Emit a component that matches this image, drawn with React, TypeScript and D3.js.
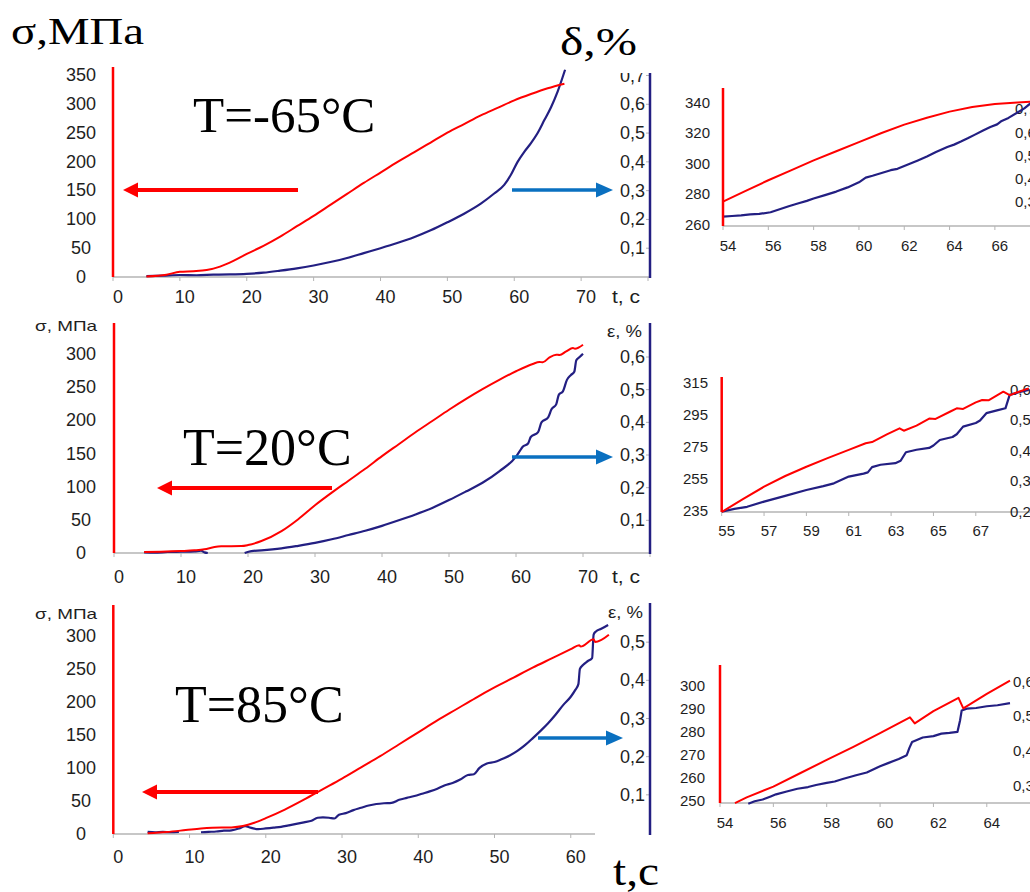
import React from 'react';
import * as d3 from 'd3';

type P = [number, number];

// ---------- Panel 1 : T = -65 °C ----------
const p1Stress: P[] = [[5,1],[8,4],[10,9],[12,10],[14,12],[16,18],[18,28],[20,40],[22.5,54],[25,70],[27.5,88],[30,106],[32.5,125],[35,144],[37.5,163],[40,181],[42.5,199],[45,216],[47.5,233],[50,250],[52.5,265],[55,280],[57.5,293],[60,306],[62.5,317],[65,327],[67.5,335]];
const p1Strain: P[] = [[5,0.003],[7.5,0.005],[10,0.007],[12.5,0.006],[15,0.008],[17.5,0.009],[20,0.011],[22.5,0.015],[25,0.022],[27.5,0.03],[30,0.04],[32.5,0.052],[35,0.066],[37.5,0.083],[40,0.1],[42.5,0.118],[45,0.138],[47.5,0.162],[50,0.19],[52.5,0.22],[55,0.255],[57,0.29],[58.5,0.32],[59.5,0.355],[60.5,0.4],[61.5,0.435],[62.5,0.465],[63.5,0.5],[64.5,0.545],[65.5,0.59],[66.5,0.645],[67.6,0.72]];
const p1TimeTicks = [0,10,20,30,40,50,60,70,80];
const p1TimeLabels = [0,10,20,30,40,50,60,70];
const p1StressTicks = [0,50,100,150,200,250,300,350];
const p1StrainTicks = [0.1,0.2,0.3,0.4,0.5,0.6,0.7];

const i1Stress: P[] = [[54,276],[55,283],[56,290],[57,296.5],[58,303],[59,309],[60,315],[61,321],[62,326.5],[63,331],[64,335],[65,338],[66,340],[67,341],[67.6,341.5]];
const i1Strain: P[] = [[54,0.24],[54.4,0.243],[54.8,0.246],[55.2,0.25],[55.6,0.252],[56.1,0.259],[56.5,0.272],[56.9,0.285],[57.3,0.297],[57.7,0.308],[58,0.318],[58.5,0.333],[59,0.348],[59.5,0.366],[60,0.388],[60.3,0.408],[60.6,0.416],[61,0.428],[61.4,0.44],[61.7,0.446],[62,0.458],[62.3,0.47],[62.6,0.482],[63,0.499],[63.4,0.518],[63.9,0.54],[64.2,0.55],[64.5,0.563],[64.8,0.577],[65.1,0.592],[65.5,0.612],[65.8,0.626],[66.1,0.637],[66.3,0.652],[66.6,0.665],[67,0.688],[67.3,0.706],[67.6,0.73]];
const i1TimeTicks = [54,56,58,60,62,64,66];
const i1StressTicks = [260,280,300,320,340];
const i1StrainTicks = [0.3,0.4,0.5,0.6,0.7];

// ---------- Panel 2 : T = 20 °C ----------
const p2Stress: P[] = [[4.5,1.5],[7,2],[10,3],[12,4],[13.5,5.5],[15,9],[16,10],[19,10.5],[20,12],[22,18],[25,33],[27.5,51],[30,72],[32.5,91],[35,109],[37.5,127],[40,146],[42.5,164],[45,182],[47.5,199],[50,216],[52.5,232],[55,247],[57.5,261],[60,274],[62.5,285],[63.5,288],[64,287.5],[65,295],[66,299],[66.5,298.5],[67.5,304],[68.5,309],[68.8,308],[70,314]];
const p2StrainA: P[] = [[4.5,0.002],[6,0.001],[8,0.003],[10,0.004],[12,0.005],[13,0.007],[13.5,0.002],[14,0]];
const p2StrainB: P[] = [[19.5,0],[20.5,0.006],[22,0.008],[25,0.014],[27.5,0.022],[30,0.031],[32.5,0.042],[35,0.055],[37.5,0.068],[40,0.083],[42.5,0.1],[45,0.118],[47.5,0.138],[50,0.162],[52.5,0.188],[55,0.215],[57.5,0.25],[60,0.295],[60.5,0.31],[61,0.325],[61.8,0.335],[62.2,0.355],[63.3,0.37],[63.8,0.4],[64.8,0.415],[65.3,0.44],[66,0.455],[66.4,0.485],[67,0.495],[67.6,0.53],[68.2,0.545],[68.7,0.555],[69,0.59],[69.5,0.6],[70,0.61]];
const p2TimeTicks = [0,10,20,30,40,50,60,70,80];
const p2TimeLabels = [0,10,20,30,40,50,60,70];
const p2StressTicks = [0,50,100,150,200,250,300];
const p2StrainTicks = [0.1,0.2,0.3,0.4,0.5,0.6];

const i2Stress: P[] = [[55,235],[56,243],[57,250.8],[58,257.5],[59,263.3],[60,268.7],[61,273.8],[61.8,278],[62.1,278.7],[62.8,283.5],[63.4,287.3],[63.6,285.8],[64.2,289],[64.8,293.4],[65.1,293.2],[65.8,297.8],[66.1,299.8],[66.4,299.4],[67,303.5],[67.3,305],[67.6,304.8],[68.3,310.2],[68.6,308],[69,310],[69.5,312.3]];
const i2Strain: P[] = [[55,0.201],[55.6,0.21],[56.2,0.217],[57,0.234],[58,0.253],[59,0.272],[59.8,0.285],[60.3,0.294],[61,0.316],[61.7,0.326],[61.9,0.33],[62.1,0.347],[62.5,0.355],[63.2,0.36],[63.45,0.368],[63.7,0.396],[64.2,0.404],[64.8,0.41],[65,0.418],[65.3,0.436],[65.9,0.446],[66.1,0.455],[66.4,0.48],[67,0.492],[67.2,0.5],[67.5,0.524],[68,0.533],[68.4,0.54],[68.6,0.584],[69,0.592],[69.5,0.6]];
const i2TimeTicks = [55,57,59,61,63,65,67];
const i2StressTicks = [235,255,275,295,315];
const i2StrainTicks = [0.2,0.3,0.4,0.5,0.6];

// ---------- Panel 3 : T = 85 °C ----------
const p3Stress: P[] = [[4.5,1],[7,3],[9.5,6],[11.5,8.5],[13,9.5],[15.5,10],[17,12],[18.5,17],[20,24],[22.5,37],[25,52],[27.5,68],[30,84],[32.5,101],[35,118],[37.5,136],[40,154],[42.5,172],[45,189],[47.5,206],[50,222],[52.5,237],[55,252],[57.5,266],[60,280],[61.1,286],[61.3,284],[63,295],[63.2,291],[65,302]];
const p3StrainA: P[] = [[4.5,0.003],[5.5,0.002],[6.5,0.003],[7.5,0.002],[8.6,0.003]];
const p3StrainB: P[] = [[11.5,0.002],[12.5,0.003],[13.5,0.004],[14.5,0.006],[15.5,0.007],[16.5,0.012],[17.3,0.018],[18,0.014],[19,0.01],[20,0.012],[21,0.014],[22,0.016],[23,0.02],[24,0.024],[25,0.028],[26,0.032],[26.8,0.04],[27.5,0.041],[28.3,0.04],[29,0.038],[29.6,0.048],[30.5,0.052],[31.5,0.06],[32.5,0.066],[33.5,0.072],[34.5,0.076],[35.5,0.078],[36.5,0.079],[37.5,0.087],[38.5,0.092],[39.5,0.097],[40.5,0.103],[41.5,0.109],[42.5,0.116],[43.5,0.125],[44.5,0.131],[45.5,0.14],[46.5,0.152],[47.3,0.154],[48,0.17],[49,0.182],[50,0.186],[51,0.194],[52,0.203],[53,0.215],[54,0.23],[55,0.248],[56,0.267],[57,0.287],[58,0.31],[59,0.335],[60,0.357],[60.6,0.375],[61,0.39],[61.2,0.43],[61.6,0.44],[62.2,0.45],[62.8,0.458],[63,0.52],[63.3,0.528],[64,0.535],[64.9,0.545]];
const p3TimeTicks = [0,10,20,30,40,50,60];
const p3TimeLabels = [0,10,20,30,40,50,60];
const p3StressTicks = [0,50,100,150,200,250,300];
const p3StrainTicks = [0.1,0.2,0.3,0.4,0.5];

const i3Stress: P[] = [[54.56,249.5],[55,252],[56,256.7],[57,262.5],[58,268.3],[59,274],[60,279.9],[61.12,286.8],[61.3,284.2],[62,289.5],[62.94,295.3],[63.12,290.7],[64,297],[64.87,302.8]];
const i3Strain: P[] = [[55.06,0.249],[55.3,0.256],[55.6,0.261],[55.9,0.27],[56.1,0.276],[56.5,0.284],[56.9,0.292],[57.3,0.297],[57.6,0.303],[58,0.309],[58.3,0.313],[58.6,0.32],[59.1,0.331],[59.5,0.339],[60,0.357],[60.3,0.366],[60.7,0.378],[61,0.389],[61.1,0.41],[61.2,0.427],[61.6,0.44],[62,0.444],[62.3,0.451],[62.6,0.453],[62.9,0.456],[63,0.49],[63.06,0.518],[63.25,0.523],[63.6,0.525],[64,0.53],[64.4,0.533],[64.87,0.539]];
const i3TimeTicks = [54,56,58,60,62,64];
const i3StressTicks = [250,260,270,280,290,300];
const i3StrainTicks = [0.3,0.4,0.5,0.6];

// ---------- styling ----------
const RED = '#ff0000';
const NAVY = '#231f82';
const ARROW_BLUE = '#0a70c0';
const GRAY = '#b4b4b4';
const TXT = '#1e1e1e';
const SANS = '"Liberation Sans", Arial, sans-serif';
const SERIF = '"Liberation Serif", "Times New Roman", serif';

type Lin = d3.ScaleLinear<number, number>;
const comma = (v: number) => v.toFixed(1).replace('.', ',');

function path(data: P[], x: Lin, y: Lin, smooth: boolean) {
  return d3.line<P>().curve(smooth ? d3.curveMonotoneX : d3.curveLinear).x(d => x(d[0])).y(d => y(d[1]))(data) || '';
}

function Arrow({ x1, x2, y, color, w, hl, hw }: { x1: number; x2: number; y: number; color: string; w: number; hl: number; hw: number }) {
  const dir = Math.sign(x2 - x1);
  const b = x2 - dir * hl;
  return (
    <g>
      <line x1={x1} y1={y} x2={b + dir} y2={y} stroke={color} strokeWidth={w} />
      <polygon points={`${x2},${y} ${b},${y - hw} ${b},${y + hw}`} fill={color} />
    </g>
  );
}

type MainCfg = {
  x: Lin; yL: Lin; yR: Lin;
  leftTop: number; rightTop: number; baseY: number; baseEnd: number; rightX: number;
  timeTicks: number[]; timeLabels: number[]; timeLabelY: number;
  stressTicks: number[]; strainTicks: number[];
  stress: P[][]; strain: P[][];
  clipTop?: number; id: string;
};

function MainPanel(c: MainCfg) {
  const lx = c.x(0);
  return (
    <g>
      {c.clipTop !== undefined && (
        <clipPath id={c.id}><rect x={0} y={c.clipTop} width={1030} height={400} /></clipPath>
      )}
      <line x1={lx} x2={c.baseEnd} y1={c.baseY} y2={c.baseY} stroke={GRAY} strokeWidth={1.5} />
      {c.timeTicks.map(t => (
        <line key={'xt' + t} x1={c.x(t)} x2={c.x(t)} y1={c.baseY} y2={c.baseY + 4} stroke={GRAY} strokeWidth={1} />
      ))}
      {c.timeLabels.map(t => (
        <text key={'xl' + t} x={c.x(t) + 5} y={c.timeLabelY} fontSize={18} fontFamily={SANS} fill={TXT} textAnchor="middle" dominantBaseline="central">{t}</text>
      ))}
      {c.stressTicks.map(v => (
        <text key={'yl' + v} x={81} y={c.yL(v)} fontSize={18} fontFamily={SANS} fill={TXT} textAnchor="middle" dominantBaseline="central">{v}</text>
      ))}
      {c.strainTicks.map(v => (
        <g key={'yr' + v} clipPath={c.clipTop !== undefined ? `url(#${c.id})` : undefined}>
          <text x={645} y={c.yR(v)} fontSize={18} fontFamily={SANS} fill={TXT} textAnchor="end" dominantBaseline="central">{comma(v)}</text>
        </g>
      ))}
      {c.strainTicks.map(v => (
        <line key={'rt' + v} x1={c.rightX - 4} x2={c.rightX} y1={c.yR(v)} y2={c.yR(v)} stroke={GRAY} strokeWidth={1} />
      ))}
      {c.strain.map((s, i) => (
        <path key={'s' + i} d={path(s, c.x, c.yR, true)} fill="none" stroke={NAVY} strokeWidth={2.2} strokeLinejoin="round" />
      ))}
      {c.stress.map((s, i) => (
        <path key={'r' + i} d={path(s, c.x, c.yL, true)} fill="none" stroke={RED} strokeWidth={2} strokeLinejoin="round" />
      ))}
      <line x1={lx} x2={lx} y1={c.leftTop} y2={c.baseY} stroke={RED} strokeWidth={2.5} />
      <line x1={c.rightX} x2={c.rightX} y1={c.rightTop} y2={c.baseY + 1} stroke={NAVY} strokeWidth={2.5} />
    </g>
  );
}

type InsetCfg = {
  x: Lin; yL: Lin; yR: Lin;
  top: number; baseY: number;
  timeTicks: number[]; timeLabelY: number;
  stressTicks: number[]; stressLabelX: number;
  strainTicks: number[]; strainLabelX: number;
  stress: P[]; strain: P[];
};

function Inset(c: InsetCfg) {
  const lx = c.x.range()[0];
  return (
    <g>
      <line x1={lx} x2={1030} y1={c.baseY} y2={c.baseY} stroke={GRAY} strokeWidth={1.5} />
      {c.timeTicks.map(t => (
        <line key={'xt' + t} x1={c.x(t)} x2={c.x(t)} y1={c.baseY} y2={c.baseY + 4} stroke={GRAY} strokeWidth={1} />
      ))}
      {c.timeTicks.map(t => (
        <text key={'xl' + t} x={c.x(t) + 5} y={c.timeLabelY} fontSize={15} fontFamily={SANS} fill={TXT} textAnchor="middle" dominantBaseline="central">{t}</text>
      ))}
      {c.stressTicks.map(v => (
        <text key={'yl' + v} x={c.stressLabelX} y={c.yL(v) - 2} fontSize={15} fontFamily={SANS} fill={TXT} textAnchor="end" dominantBaseline="central">{v}</text>
      ))}
      {c.strainTicks.map(v => (
        <text key={'yr' + v} x={c.strainLabelX} y={c.yR(v) - 1} fontSize={15} fontFamily={SANS} fill={TXT} textAnchor="start" dominantBaseline="central">{comma(v)}</text>
      ))}
      <path d={path(c.strain, c.x, c.yR, false)} fill="none" stroke={NAVY} strokeWidth={2.2} strokeLinejoin="round" />
      <path d={path(c.stress, c.x, c.yL, false)} fill="none" stroke={RED} strokeWidth={2} strokeLinejoin="round" />
      <line x1={lx} x2={lx} y1={c.top} y2={c.baseY} stroke={RED} strokeWidth={2.5} />
    </g>
  );
}

export default function App() {
  const lin = (d: [number, number], r: [number, number]) => d3.scaleLinear().domain(d).range(r);

  const p1 = { x: lin([0, 80], [113, 648]), yL: lin([0, 350], [277, 75]), yR: lin([0, 0.7], [277, 75.5]) };
  const p2 = { x: lin([0, 80], [114, 650]), yL: lin([0, 300], [553, 354]), yR: lin([0, 0.6], [553, 357]) };
  const p3 = { x: lin([0, 70], [113.3, 647]), yL: lin([0, 300], [834, 636]), yR: lin([0, 0.6], [833, 604]) };

  const i1 = { x: lin([54, 67.55], [723, 1030]), yL: lin([260, 340], [226, 104]), yR: lin([0.2, 0.6], [226, 133]) };
  const i2 = { x: lin([55, 69.56], [721.7, 1030]), yL: lin([235, 315], [512, 384]), yR: lin([0.2, 0.6], [512, 390]) };
  const i3 = { x: lin([54, 65.62], [720, 1030]), yL: lin([250, 300], [802, 687]), yR: lin([0.3, 0.6], [786, 682]) };

  return (
    <svg width={1030} height={892} style={{ position: 'absolute', left: 0, top: 0, background: '#fff' }} xmlns="http://www.w3.org/2000/svg">
      <rect x={0} y={0} width={1030} height={892} fill="#fff" />

      <MainPanel id="c1" clipTop={73} {...p1} leftTop={67} rightTop={73} baseY={277} baseEnd={650} rightX={650}
        timeTicks={p1TimeTicks} timeLabels={p1TimeLabels} timeLabelY={297}
        stressTicks={p1StressTicks} strainTicks={p1StrainTicks}
        stress={[p1Stress]} strain={[p1Strain]} />
      <MainPanel id="c2" {...p2} leftTop={323} rightTop={323} baseY={553} baseEnd={650} rightX={650}
        timeTicks={p2TimeTicks} timeLabels={p2TimeLabels} timeLabelY={577}
        stressTicks={p2StressTicks} strainTicks={p2StrainTicks}
        stress={[p2Stress]} strain={[p2StrainA, p2StrainB]} />
      <MainPanel id="c3" {...p3} leftTop={605} rightTop={603} baseY={834} baseEnd={595} rightX={650}
        timeTicks={p3TimeTicks} timeLabels={p3TimeLabels} timeLabelY={857}
        stressTicks={p3StressTicks} strainTicks={p3StrainTicks}
        stress={[p3Stress]} strain={[p3StrainA, p3StrainB]} />

      <Inset {...i1} top={88} baseY={226} timeTicks={i1TimeTicks} timeLabelY={245}
        stressTicks={i1StressTicks} stressLabelX={710} strainTicks={i1StrainTicks} strainLabelX={1015}
        stress={i1Stress} strain={i1Strain} />
      <Inset {...i2} top={377} baseY={512} timeTicks={i2TimeTicks} timeLabelY={530}
        stressTicks={i2StressTicks} stressLabelX={708} strainTicks={i2StrainTicks} strainLabelX={1010}
        stress={i2Stress} strain={i2Strain} />
      <Inset {...i3} top={665} baseY={803} timeTicks={i3TimeTicks} timeLabelY={822}
        stressTicks={i3StressTicks} stressLabelX={705} strainTicks={i3StrainTicks} strainLabelX={1013}
        stress={i3Stress} strain={i3Strain} />

      <text x={11} y={44} fontSize={38} fontFamily={SERIF} fill="#000" textLength={133} lengthAdjust="spacingAndGlyphs">σ,МПа</text>
      <text x={560} y={55} fontSize={40} fontFamily={SERIF} fill="#000" textLength={77} lengthAdjust="spacingAndGlyphs">δ,%</text>
      <text x={613} y={885} fontSize={42} fontFamily={SERIF} fill="#000" textLength={46} lengthAdjust="spacingAndGlyphs">t,c</text>
      <text x={612} y={297} fontSize={18} fontFamily={SANS} fill={TXT} dominantBaseline="central" textLength={28} lengthAdjust="spacingAndGlyphs">t, c</text>
      <text x={612} y={577} fontSize={18} fontFamily={SANS} fill={TXT} dominantBaseline="central" textLength={28} lengthAdjust="spacingAndGlyphs">t, c</text>
      <text x={35} y={325} fontSize={15} fontFamily={SANS} fill={TXT} dominantBaseline="central" textLength={62} lengthAdjust="spacingAndGlyphs">σ, МПа</text>
      <text x={35} y={613} fontSize={15} fontFamily={SANS} fill={TXT} dominantBaseline="central" textLength={62} lengthAdjust="spacingAndGlyphs">σ, МПа</text>
      <text x={607} y={331} fontSize={16} fontFamily={SANS} fill={TXT} dominantBaseline="central" textLength={35} lengthAdjust="spacingAndGlyphs">ε, %</text>
      <text x={608} y={612} fontSize={16} fontFamily={SANS} fill={TXT} dominantBaseline="central" textLength={35} lengthAdjust="spacingAndGlyphs">ε, %</text>

      <text x={193} y={132} fontSize={51} fontFamily={SERIF} fill="#000">T=-65°C</text>
      <text x={183} y={465} fontSize={52} fontFamily={SERIF} fill="#000">T=20°C</text>
      <text x={175} y={722} fontSize={52} fontFamily={SERIF} fill="#000">T=85°C</text>

      <Arrow x1={298} x2={123} y={190} color={RED} w={4} hl={15} hw={7.5} />
      <Arrow x1={512} x2={613} y={190} color={ARROW_BLUE} w={3.5} hl={17} hw={7.5} />
      <Arrow x1={332} x2={157} y={488} color={RED} w={4} hl={15} hw={7.5} />
      <Arrow x1={512} x2={613} y={457} color={ARROW_BLUE} w={3.5} hl={17} hw={7.5} />
      <Arrow x1={318} x2={142} y={792} color={RED} w={4} hl={15} hw={7.5} />
      <Arrow x1={538} x2={623} y={738} color={ARROW_BLUE} w={3.5} hl={17} hw={7.5} />
    </svg>
  );
}
